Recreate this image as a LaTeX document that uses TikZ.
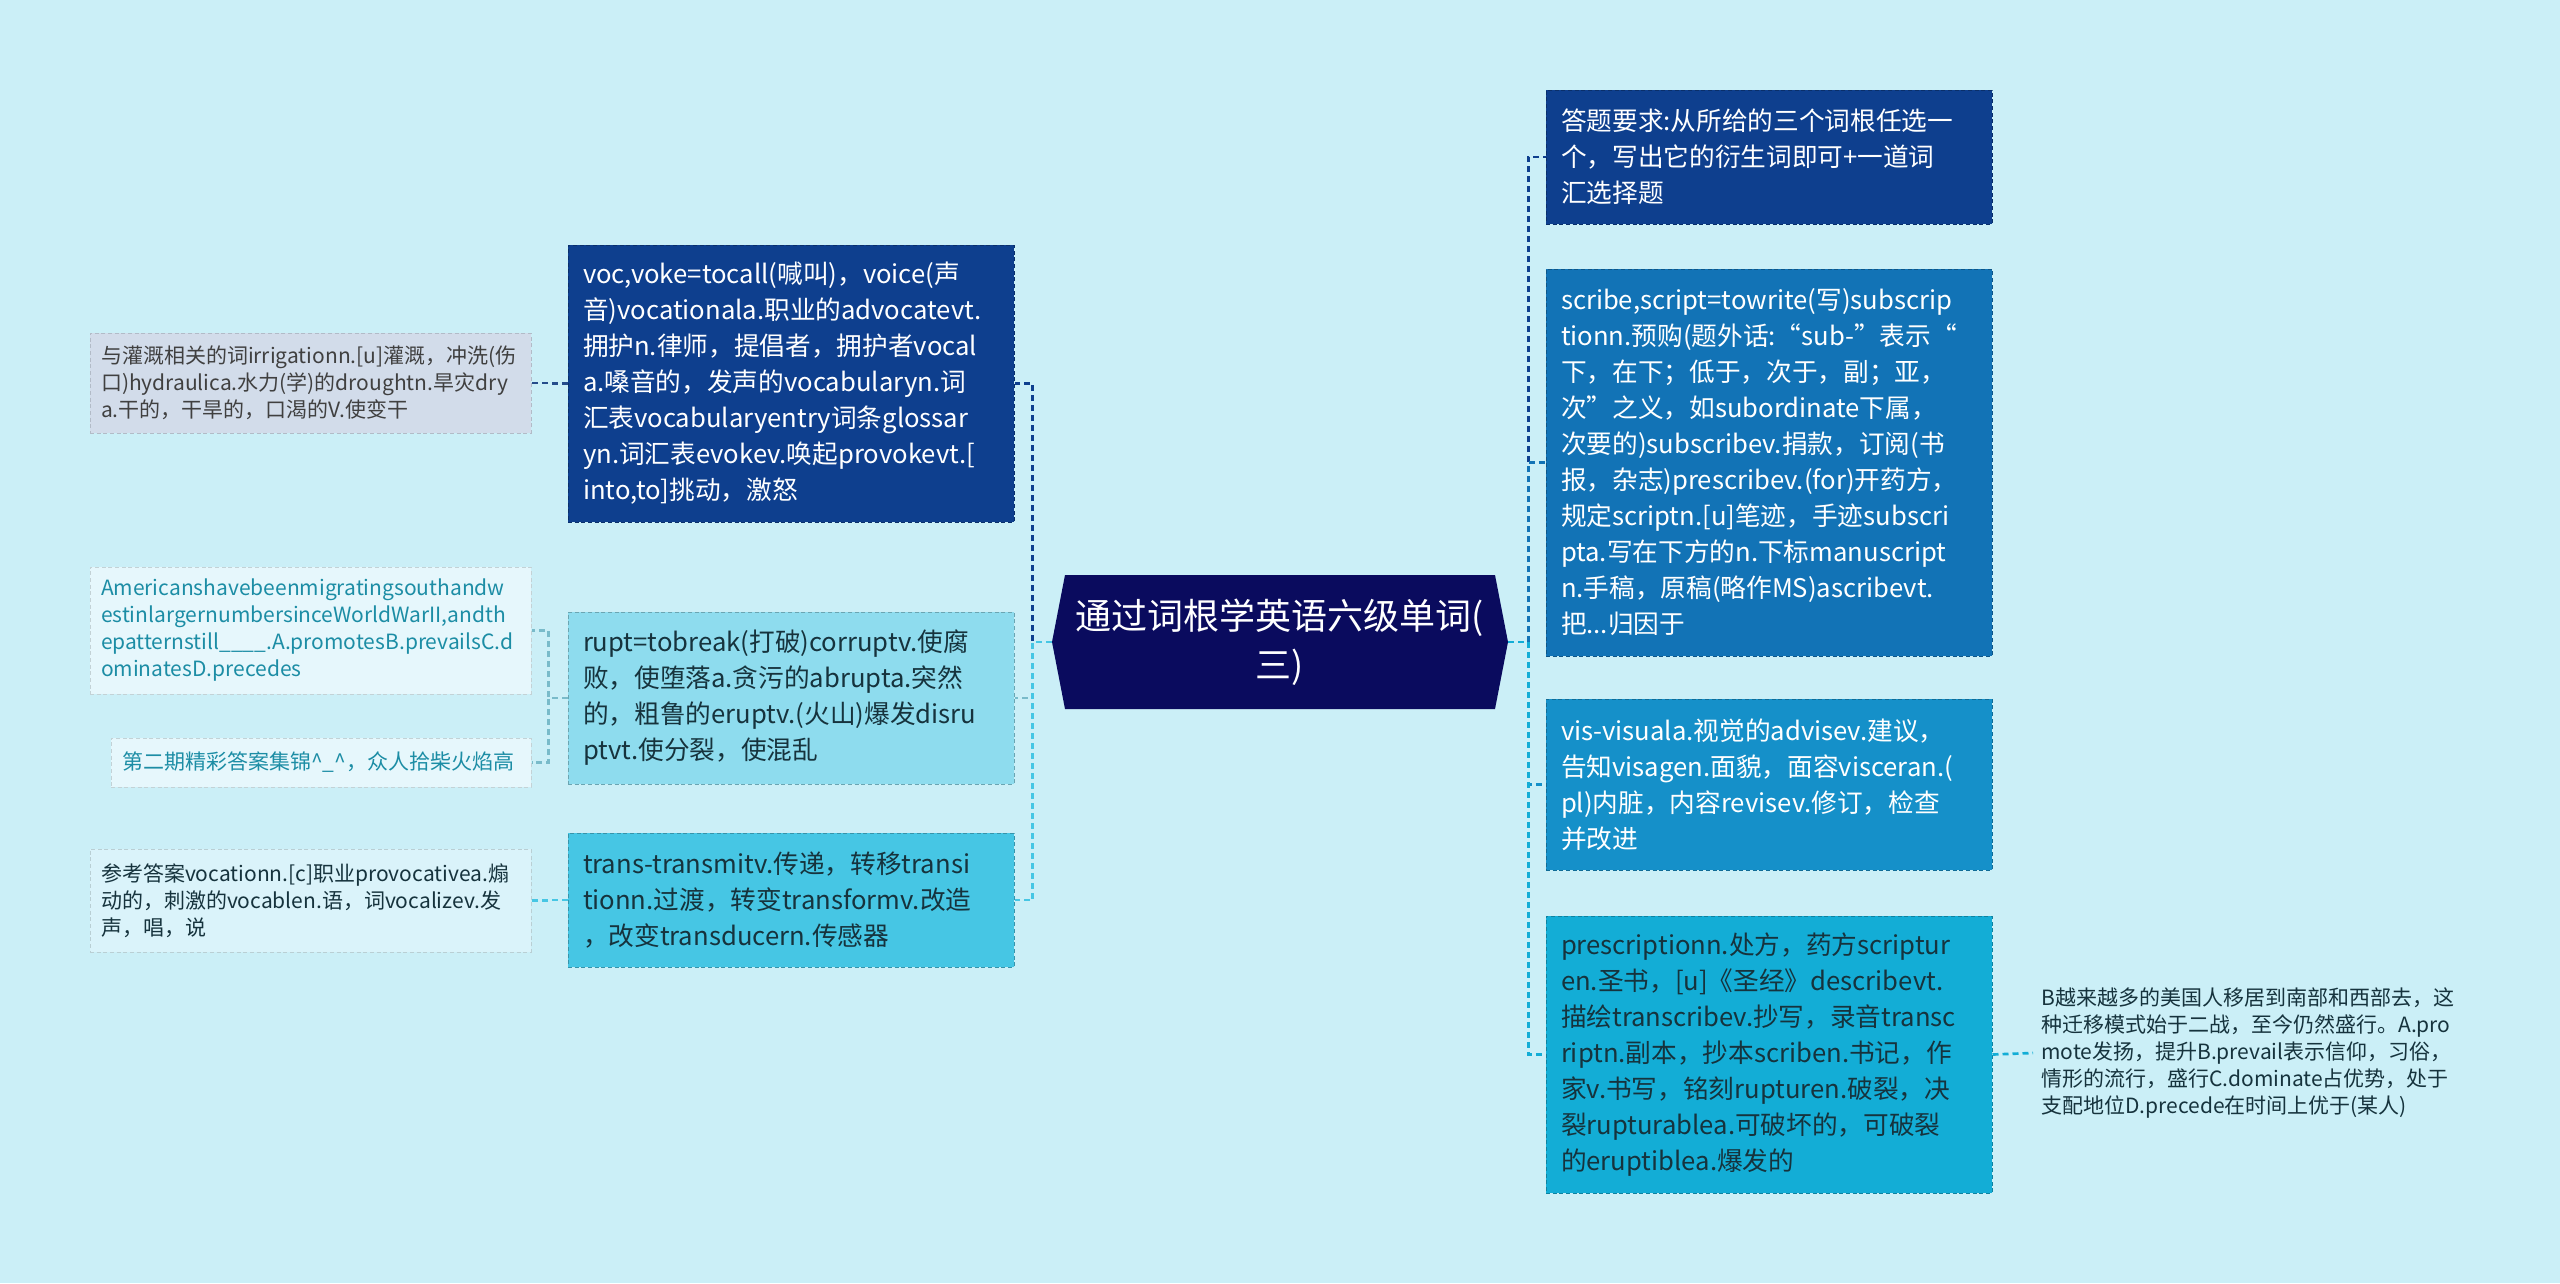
\documentclass[tikz,border=0pt]{standalone}
\usepackage{fontspec}
\setmainfont{Noto Sans CJK SC}
\definecolor{bg}{HTML}{CBEFF7}
\definecolor{navy}{HTML}{0A0B5E}
\definecolor{dblue}{HTML}{0E3F8E}
\definecolor{mblue}{HTML}{1273B6}
\definecolor{tblue}{HTML}{1590C9}
\definecolor{cblue}{HTML}{13ADD6}
\definecolor{lcyan}{HTML}{8EDCEE}
\definecolor{mcyan}{HTML}{46C6E4}
\definecolor{grayb}{HTML}{D2DCEA}
\definecolor{pale1}{HTML}{E6F7FC}
\definecolor{pale2}{HTML}{DAF3FA}
\definecolor{tealtxt}{HTML}{1C8DA5}
\definecolor{darktxt}{HTML}{16333D}
\tikzset{
  bigtext/.style={font=\fontsize{19.25pt}{27pt}\selectfont},
  smalltext/.style={font=\fontsize{15.75pt}{20.25pt}\selectfont},
  rbox/.style={bigtext, rectangle, align=left, text width=312pt, inner xsep=11.25pt,
    inner ysep=0pt, minimum width=334.5pt, line width=0.75pt, dash pattern=on 3pt off 2pt},
  lbox/.style={smalltext, rectangle, align=left, text width=314.25pt, inner xsep=8.25pt,
    inner ysep=0pt, minimum width=330.75pt, line width=0.75pt, dash pattern=on 3pt off 2pt},
  conn/.style={line width=2pt, dash pattern=on 4.5pt off 3pt},
}
\begin{document}
\begin{tikzpicture}[x=0.75pt, y=-0.75pt]
\fill[bg] (0,0) rectangle (2560,1283);
\useasboundingbox (0,0) rectangle (2560,1283);

% central hexagon
\fill[navy] (1052,642) -- (1065,575) -- (1495,575) -- (1508,642) -- (1495,709) -- (1065,709) -- cycle;
\node[font=\fontsize{27pt}{36.75pt}\selectfont, text=white, align=center,
  minimum width=342pt, minimum height=100.5pt, inner sep=0pt] (c) at (1280,642)
  {通过词根学英语六级单词(\\三)};

% right boxes
\node[rbox, fill=dblue, draw=dblue!75!black, text=white, minimum height=100.5pt] (r1) at (1769,157)
  {答题要求:从所给的三个词根任选一\\个，写出它的衍生词即可+一道词\\汇选择题};
\node[rbox, fill=mblue, draw=mblue!75!black, text=white, minimum height=290.25pt] (r2) at (1769,462.5)
  {scribe,script=towrite(写)subscrip\\tionn.预购(题外话:“sub-”表示“\\下，在下；低于，次于，副；亚，\\次”之义，如subordinate下属，\\次要的)subscribev.捐款，订阅(书\\报，杂志)prescribev.(for)开药方，\\规定scriptn.[u]笔迹，手迹subscri\\pta.写在下方的n.下标manuscript\\n.手稿，原稿(略作MS)ascribevt.\\把...归因于};
\node[rbox, fill=tblue, draw=tblue!75!black, text=white, minimum height=128.25pt] (r3) at (1769,784.5)
  {vis-visuala.视觉的advisev.建议，\\告知visagen.面貌，面容visceran.(\\pl)内脏，内容revisev.修订，检查\\并改进};
\node[rbox, fill=cblue, draw=cblue!75!black, text=darktxt, minimum height=207.75pt] (r4) at (1769,1054.5)
  {prescriptionn.处方，药方scriptur\\en.圣书，[u]《圣经》describevt.\\描绘transcribev.抄写，录音transc\\riptn.副本，抄本scriben.书记，作\\家v.书写，铭刻rupturen.破裂，决\\裂rupturablea.可破坏的，可破裂\\的eruptiblea.爆发的};
\node[smalltext, anchor=west, align=left, inner sep=0pt, text=darktxt] (r5) at (2041,1053)
  {B越来越多的美国人移居到南部和西部去，这\\种迁移模式始于二战，至今仍然盛行。A.pro\\mote发扬，提升B.prevail表示信仰，习俗，\\情形的流行，盛行C.dominate占优势，处于\\支配地位D.precede在时间上优于(某人)};

% left boxes
\node[rbox, fill=dblue, draw=dblue!75!black, text=white, minimum height=207.75pt] (l1) at (791,383.5)
  {voc,voke=tocall(喊叫)，voice(声\\音)vocationala.职业的advocatevt.\\拥护n.律师，提倡者，拥护者vocal\\a.嗓音的，发声的vocabularyn.词\\汇表vocabularyentry词条glossar\\yn.词汇表evokev.唤起provokevt.[\\into,to]挑动，激怒};
\node[rbox, fill=lcyan, draw=lcyan!75!black, text=darktxt, minimum height=129pt] (l2) at (791,698)
  {rupt=tobreak(打破)corruptv.使腐\\败，使堕落a.贪污的abrupta.突然\\的，粗鲁的eruptv.(火山)爆发disru\\ptvt.使分裂，使混乱};
\node[rbox, fill=mcyan, draw=mcyan!75!black, text=darktxt, minimum height=100.5pt] (l3) at (791,900)
  {trans-transmitv.传递，转移transi\\tionn.过渡，转变transformv.改造\\，改变transducern.传感器};

% far left boxes
\node[lbox, fill=grayb, draw=grayb!85!black, text=black!75, minimum height=75pt] (ll1) at (310.5,383)
  {与灌溉相关的词irrigationn.[u]灌溉，冲洗(伤\\口)hydraulica.水力(学)的droughtn.旱灾dry\\a.干的，干旱的，口渴的V.使变干};
\node[lbox, fill=pale1, draw=pale1!85!black, text=tealtxt, minimum height=95.25pt] (ll2) at (310.5,630.5)
  {Americanshavebeenmigratingsouthandw\\estinlargernumbersinceWorldWarII,andth\\epatternstill\textunderscore\textunderscore\textunderscore\textunderscore.A.promotesB.prevailsC.d\\ominatesD.precedes};
\node[lbox, fill=pale1, draw=pale1!85!black, text=tealtxt, text width=298.5pt, minimum width=315pt, minimum height=36.75pt] (ll3) at (321,762.5)
  {第二期精彩答案集锦\textasciicircum\textunderscore\textasciicircum，众人拾柴火焰高};
\node[lbox, fill=pale2, draw=pale2!85!black, text=darktxt, minimum height=77.25pt] (ll4) at (310.5,900.5)
  {参考答案vocationn.[c]职业provocativea.煽\\动的，刺激的vocablen.语，词vocalizev.发\\声，唱，说};

% connectors right
\draw[conn, dblue] (c.east) -- ++(20,0) |- (r1.west);
\draw[conn, mblue] (c.east) -- ++(20,0) |- (r2.west);
\draw[conn, tblue] (c.east) -- ++(20,0) |- (r3.west);
\draw[conn, cblue] (c.east) -- ++(20,0) |- (r4.west);
\draw[conn, cblue] (r4.east) -- ([xshift=-6pt]r5.west);

% connectors left
\draw[conn, dblue] (c.west) -- ++(-19,0) |- (l1.east);
\draw[conn, lcyan!85!black] (c.west) -- ++(-19,0) |- (l2.east);
\draw[conn, mcyan] (c.west) -- ++(-19,0) |- (l3.east);
\draw[conn, dblue!80!gray] (l1.west) -- ++(-19,0) |- (ll1.east);
\draw[conn, lcyan!85!black] (l2.west) -- ++(-19,0) |- (ll2.east);
\draw[conn, lcyan!85!black] (l2.west) -- ++(-19,0) |- (ll3.east);
\draw[conn, mcyan] (l3.west) -- ++(-19,0) |- (ll4.east);
\end{tikzpicture}
\end{document}
